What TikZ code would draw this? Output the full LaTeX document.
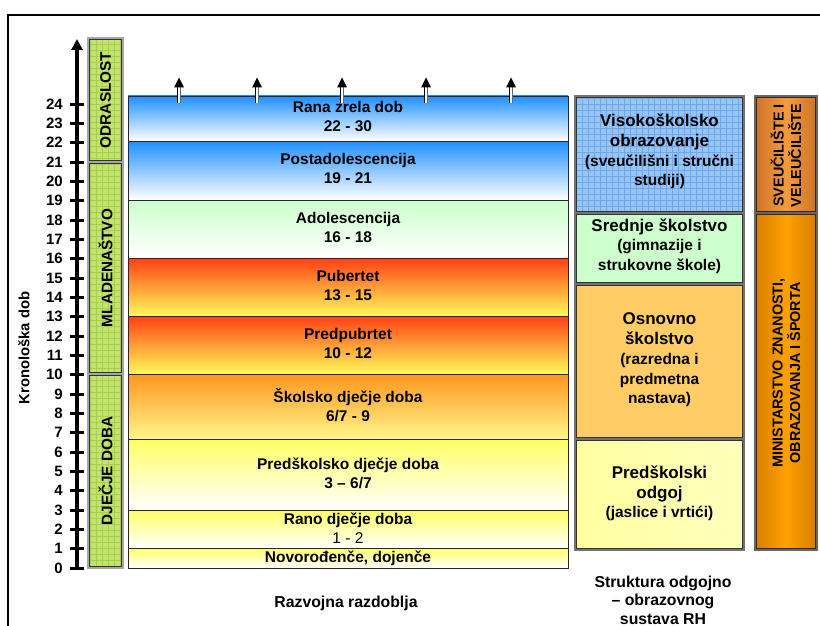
\documentclass[tikz,border=0pt]{standalone}
\usepackage{fontspec}
\setmainfont{Liberation Sans}
\usetikzlibrary{arrows.meta,patterns.meta}
\definecolor{gfill}{RGB}{196,226,110}
\definecolor{ggrid}{RGB}{165,208,75}
\definecolor{vfill}{RGB}{150,198,245}
\definecolor{vgrid}{RGB}{112,166,236}
\definecolor{bluetop}{RGB}{30,144,255}
\definecolor{greentop}{RGB}{204,255,204}
\definecolor{redtop}{RGB}{255,64,20}
\definecolor{yellowbot}{RGB}{255,250,90}
\definecolor{orangetop}{RGB}{255,150,30}
\definecolor{paleyellow}{RGB}{255,246,140}
\definecolor{yellowtop}{RGB}{255,255,100}
\definecolor{srednjefill}{RGB}{204,255,204}
\definecolor{osnovnofill}{RGB}{255,204,102}
\definecolor{predfill}{RGB}{255,255,160}
\definecolor{svedge}{RGB}{205,115,40}
\definecolor{svmid}{RGB}{245,155,60}
\definecolor{minedge}{RGB}{215,125,0}
\definecolor{minmid}{RGB}{255,160,0}
\newcommand{\titleline}[1]{{\fontsize{17}{20}\selectfont #1}}
\begin{document}
\begin{tikzpicture}[x=1pt,y=-1pt,
  band/.style={rectangle, inner sep=0pt, draw=black!85, line width=0.8pt,
    minimum width=440pt, align=center, font=\fontsize{15.5}{19}\selectfont\bfseries},
  bandtxt/.style={inner sep=0pt, align=center, font=\fontsize{15.5}{19}\selectfont\bfseries},
  greenbox/.style={rectangle, inner sep=0pt, minimum width=35pt, draw=black!35, line width=1.2pt,
    preaction={fill=gfill}, pattern={Hatch[distance=6pt,angle=0,line width=0.5pt]}, pattern color=ggrid},
  greenlbl/.style={rotate=90, inner sep=0pt, font=\fontsize{15.3}{18}\selectfont\bfseries},
  edubox/.style={rectangle, inner sep=0pt, minimum width=169pt, draw=black!55, line width=1.3pt},
  edutxt/.style={inner sep=0pt, align=center, font=\fontsize{15.5}{19.7}\selectfont\bfseries},
  rightbox/.style={rectangle, inner sep=0pt, minimum width=62pt, draw=black!60, line width=1.3pt},
  rightlbl/.style={rotate=90, inner sep=0pt, align=center, font=\fontsize{14.4}{17.5}\selectfont\bfseries},
  innerline/.style={draw=black!80, line width=0.7pt},
  tick/.style={line width=3pt},
  ticklbl/.style={anchor=east, inner sep=0pt, font=\fontsize{15}{18}\selectfont\bfseries},
  axisline/.style={line width=3.5pt, -{Triangle[length=11pt,width=11pt]}},
  shaftline/.style={draw=black, line width=1pt},
  caption/.style={inner sep=0pt, align=center, font=\fontsize{15.8}{18.5}\selectfont\bfseries}
]
\useasboundingbox (0,0) rectangle (820,626);
\fill[white] (0,0) rectangle (820,626);
% frame
\coordinate (fbl) at (8,626);
\coordinate (ftl) at (8,15);
\coordinate (ftr) at (820,15);
\draw[line width=2pt] (fbl) -- (ftl) -- (ftr);

% vertical axis
\coordinate (axbot) at (77,569.5);
\coordinate (axtop) at (77,39);
\draw[axisline] (axbot) -- (axtop);
\foreach \k in {0,...,24}{
  \pgfmathsetmacro\yy{568-\k*19.333}
  \draw[tick] (70,\yy) -- (84,\yy);
  \node[ticklbl] (t\k) at (63,\yy) {\k};
}
\node[rotate=90, inner sep=0pt, font=\fontsize{14.8}{17}\selectfont\bfseries] (kron) at (24,348) {Kronološka dob};

% green life-stage column
\node[greenbox, minimum height=124pt] (odr) at (105.5,100) {};
\node[greenbox, minimum height=212pt] (mla) at (105.5,268) {};
\node[greenbox, minimum height=194pt] (dje) at (105.5,471) {};
\foreach \b in {odr,mla,dje}{
  \draw[innerline] ([shift={(2,2)}]\b.north west) rectangle ([shift={(-2,-2)}]\b.south east);
}
\node[greenlbl] (odrl) at (odr.center) {ODRASLOST};
\node[greenlbl] (mlal) at (mla.center) {MLADENAŠTVO};
\node[greenlbl] (djel) at (dje.center) {DJEČJE DOBA};

% developmental bands
\node[band, minimum height=45pt, top color=bluetop, bottom color=white] (rana) at (348,118.5) {};
\node[band, minimum height=59pt, top color=bluetop, bottom color=white] (posta) at (348,170.5) {};
\node[band, minimum height=58pt, top color=greentop, bottom color=white] (adol) at (348,229) {};
\node[band, minimum height=58pt, top color=redtop, bottom color=yellowbot] (pub) at (348,287) {};
\node[band, minimum height=58pt, top color=redtop, bottom color=yellowbot] (predp) at (348,345) {};
\node[band, minimum height=65pt, top color=orangetop, bottom color=paleyellow] (skol) at (348,406.5) {};
\node[band, minimum height=71pt, top color=yellowtop, bottom color=white] (predsk) at (348,474.5) {};
\node[band, minimum height=38pt, top color=yellowtop, bottom color=white] (rano) at (348,529) {};
\node[band, minimum height=20pt, top color=yellowtop, bottom color=white] (novo) at (348,558) {};

\node[bandtxt] (ranat) at ([yshift=2pt]rana.center) {Rana zrela dob\\22 - 30};
\node[bandtxt] (postat) at ([yshift=2pt]posta.center) {Postadolescencija\\19 - 21};
\node[bandtxt] (adolt) at ([yshift=1.5pt]adol.center) {Adolescencija\\16 - 18};
\node[bandtxt] (pubt) at ([yshift=1.5pt]pub.center) {Pubertet\\13 - 15};
\node[bandtxt] (predpt) at ([yshift=1.5pt]predp.center) {Predpubrtet\\10 - 12};
\node[bandtxt] (skolt) at ([yshift=1.5pt]skol.center) {Školsko dječje doba\\6/7 - 9};
\node[bandtxt] (predskt) at ([yshift=1pt]predsk.center) {Predškolsko dječje doba\\3 – 6/7};
\node[bandtxt] (ranot) at ([yshift=1pt]rano.center) {Rano dječje doba\\{\mdseries 1 - 2}};
\node[bandtxt] (novot) at (novo.center) {Novorođenče, dojenče};

% upward arrows on top band (double shaft, solid tip)
\foreach \i/\x in {1/179,2/257,3/342,4/426,5/511}{
  \coordinate (arrb\i) at (\x,103);
  \coordinate (arrm\i) at (\x,87.5);
  \coordinate (arrt\i) at (\x,77.5);
  \fill[white] ([xshift=-1.8pt]arrm\i) rectangle ([xshift=1.8pt]arrb\i);
  \draw[shaftline] ([xshift=-1.4pt]arrb\i) -- ([xshift=-1.4pt]arrm\i);
  \draw[shaftline, draw=black!60] ([xshift=1.4pt]arrb\i) -- ([xshift=1.4pt]arrm\i);
  \fill[black] ([xshift=-5pt]arrm\i) -- (arrt\i) -- ([xshift=5pt]arrm\i) -- cycle;
}

\node[caption] (razv) at (346,603) {Razvojna razdoblja};

% education structure column
\node[edubox, minimum height=117pt, preaction={fill=vfill},
  pattern={Hatch[distance=6pt,angle=0,line width=0.5pt]}, pattern color=vgrid] (vis) at (659.5,154.5) {};
\node[edubox, minimum height=71pt, fill=srednjefill] (sred) at (659.5,248.5) {};
\node[edubox, minimum height=155pt, fill=osnovnofill] (osn) at (659.5,361.5) {};
\node[edubox, minimum height=111pt, left color=predfill, right color=predfill!70!white, middle color=predfill!85!white] (pred) at (659.5,494.5) {};
\foreach \b in {vis,sred,osn,pred}{
  \draw[innerline] ([shift={(2,2)}]\b.north west) rectangle ([shift={(-2,-2)}]\b.south east);
}
\node[edutxt] (vist) at ([yshift=3pt]vis.center) {\titleline{Visokoškolsko}\\\titleline{obrazovanje}\\(sveučilišni i stručni\\studiji)};
\node[edutxt] (sredt) at ([yshift=2.5pt]sred.center) {\titleline{Srednje školstvo}\\(gimnazije i\\strukovne škole)};
\node[edutxt] (osnt) at ([yshift=1.5pt]osn.center) {\titleline{Osnovno}\\\titleline{školstvo}\\(razredna i\\predmetna\\nastava)};
\node[edutxt] (predt) at ([yshift=1pt]pred.center) {\titleline{Predškolski}\\\titleline{odgoj}\\(jaslice i vrtići)};

\node[caption] (strukt) at (663,600) {Struktura odgojno\\– obrazovnog\\sustava RH};

% ministry column
\node[rightbox, minimum height=117pt, left color=svedge, right color=svedge, middle color=svmid] (sve) at (786,154.5) {};
\node[rightbox, minimum height=337pt, left color=minedge, right color=minedge, middle color=minmid] (min) at (786,381.5) {};
\foreach \b in {sve,min}{
  \draw[draw=black!70!brown, line width=0.7pt] ([shift={(2,2)}]\b.north west) rectangle ([shift={(-2,-2)}]\b.south east);
}
\node[rightlbl] (svet) at (786,155.5) {SVEUČILIŠTE I\\VELEUČILIŠTE};
\node[rightlbl] (mint) at (786.5,373) {MINISTARSTVO ZNANOSTI,\\OBRAZOVANJA I ŠPORTA};
\end{tikzpicture}
\end{document}
